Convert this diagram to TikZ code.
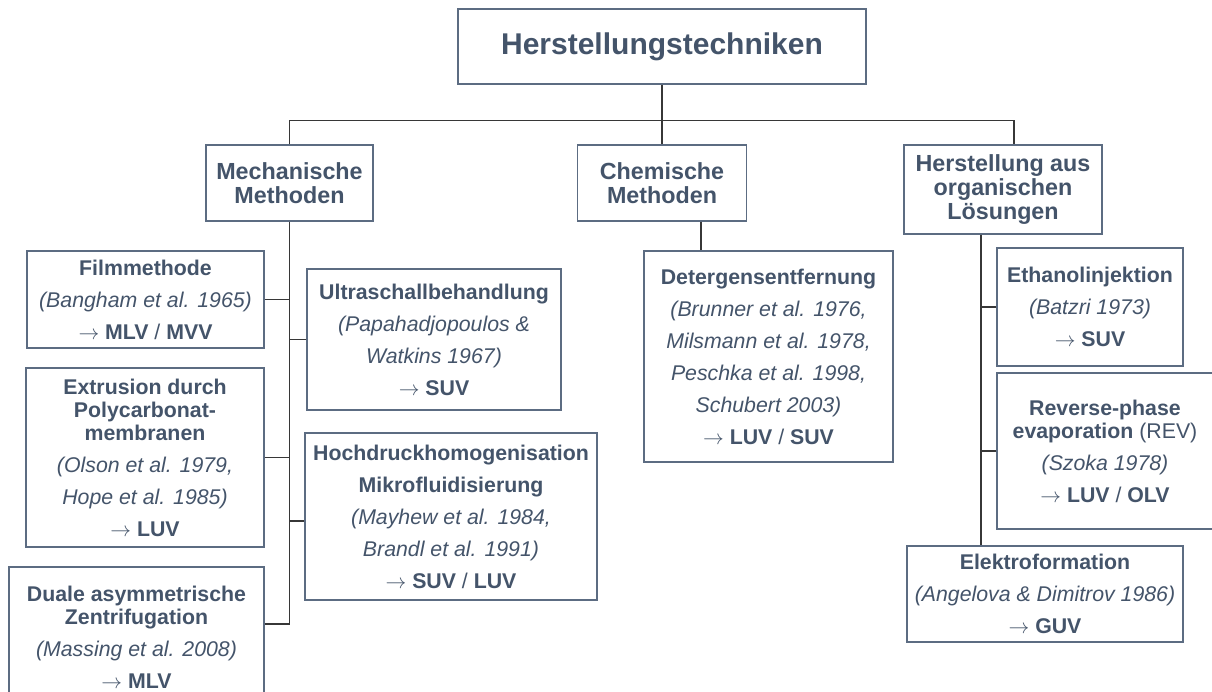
\documentclass[tikz,border=0pt]{standalone}
\usepackage{fontspec}
\setmainfont{Liberation Sans}
\usetikzlibrary{positioning,calc}
\definecolor{slatetext}{RGB}{68,84,106}
\definecolor{slateline}{RGB}{92,108,130}
\definecolor{linkgray}{RGB}{55,55,55}

\newcommand{\yields}[1]{$\rightarrow$ #1}

\begin{document}
\begin{tikzpicture}[
    x=1pt, y=-1pt,
    box/.style={rectangle, draw=slateline, line width=1.3pt, fill=white, text=slatetext, align=center, inner sep=0pt},
    rootbox/.style={box, font=\fontsize{30pt}{34pt}\selectfont\bfseries},
    groupbox/.style={box, font=\fontsize{23.3pt}{24pt}\selectfont\bfseries},
    leafbox/.style={box, font=\fontsize{21.3pt}{23pt}\selectfont},
    link/.style={draw=linkgray, line width=1.1pt}
]

% === LAYOUT ===
% coordinates are pixels of the 1212x691 page, y runs downwards
% root: y=9-84, bus: y=121.5, group boxes: y=145
\useasboundingbox (0,0) rectangle (1212,691);
\clip (0,0) rectangle (1212,691);

% Root
\node[rootbox, minimum width=408pt, minimum height=75pt] (root) at (662,46.5) {Herstellungstechniken};

% Groups
\node[groupbox, minimum width=167pt, minimum height=76pt] (mech) at (289.5,183) {Mechanische\\Methoden};
\node[groupbox, minimum width=169pt, minimum height=76pt] (chem) at (662,183) {Chemische\\Methoden};
\node[groupbox, minimum width=198pt, minimum height=89pt] (orgsol) at (1003,189.5) {Herstellung aus\\organischen\\Lösungen};

% Mechanical methods - left column
\node[leafbox, minimum width=237pt, minimum height=97pt] (film) at (145.5,299.5)
    {\textbf{Filmmethode}\\[9pt]\textit{(Bangham et al. 1965)}\\[9pt]\yields{\textbf{MLV} / \textbf{MVV}}};
\node[leafbox, minimum width=238pt, minimum height=179pt] (extr) at (145,457.5)
    {\textbf{Extrusion durch}\\\textbf{Polycarbonat-}\\\textbf{membranen}\\[9pt]\textit{(Olson et al. 1979,}\\[9pt]\textit{Hope et al. 1985)}\\[9pt]\yields{\textbf{LUV}}};
\node[leafbox, minimum width=255pt, minimum height=141pt] (duale) at (136.5,637.5)
    {\textbf{Duale asymmetrische}\\\textbf{Zentrifugation}\\[9pt]\textit{(Massing et al. 2008)}\\[9pt]\yields{\textbf{MLV}}};

% Mechanical methods - right column
\node[leafbox, minimum width=254pt, minimum height=141pt] (ultra) at (434,339.5)
    {\textbf{Ultraschallbehandlung}\\[9pt]\textit{(Papahadjopoulos \&}\\[9pt]\textit{Watkins 1967)}\\[9pt]\yields{\textbf{SUV}}};
\node[leafbox, minimum width=292pt, minimum height=167pt] (hoch) at (451,516.5)
    {\textbf{Hochdruckhomogenisation}\\[9pt]\textbf{Mikrofluidisierung}\\[9pt]\textit{(Mayhew et al. 1984,}\\[9pt]\textit{Brandl et al. 1991)}\\[9pt]\yields{\textbf{SUV} / \textbf{LUV}}};

% Chemical methods
\node[leafbox, minimum width=249pt, minimum height=211pt] (det) at (768.5,356.5)
    {\textbf{Detergensentfernung}\\[9pt]\textit{(Brunner et al. 1976,}\\[9pt]\textit{Milsmann et al. 1978,}\\[9pt]\textit{Peschka et al. 1998,}\\[9pt]\textit{Schubert 2003)}\\[9pt]\yields{\textbf{LUV} / \textbf{SUV}}};

% Organic solutions
\node[leafbox, minimum width=186pt, minimum height=118pt] (eth) at (1090,307)
    {\textbf{Ethanolinjektion}\\[9pt]\textit{(Batzri 1973)}\\[9pt]\yields{\textbf{SUV}}};
\node[leafbox, minimum width=216pt, minimum height=156pt] (rev) at (1105,451)
    {\textbf{Reverse-phase}\\\textbf{evaporation} (REV)\\[9pt]\textit{(Szoka 1978)}\\[9pt]\yields{\textbf{LUV} / \textbf{OLV}}};
\node[leafbox, minimum width=276pt, minimum height=96pt] (elek) at (1045,594)
    {\textbf{Elektroformation}\\[9pt]\textit{(Angelova \& Dimitrov 1986)}\\[9pt]\yields{\textbf{GUV}}};

% Root to groups
\draw[link] (root.south) -- (chem.north);
\draw[link] (mech.north) |- ($(orgsol.north)+(11,-23.5)$) -- ($(orgsol.north)+(11,0)$);

% Mechanical trunk
\coordinate (mechend) at (289.5,624);
\draw[link] (mech.south) -- (mechend) -- (mechend -| duale.east);
\draw[link] (film.east) -- (film.east -| mech.south);
\draw[link] (extr.east) -- (extr.east -| mech.south);
\draw[link] (ultra.west) -- (ultra.west -| mech.south);
\draw[link] ($(hoch.west)+(0,4.5)$) -- ($(hoch.west -| mech.south)+(0,4.5)$);

% Chemical drop
\path (chem.south) ++(39,0) coordinate (chemdrop);
\draw[link] (chemdrop) -- (chemdrop |- det.north);

% Organic trunk
\path (orgsol.south) ++(-22,0) coordinate (orgdrop);
\draw[link] (orgdrop) -- (orgdrop |- elek.north);
\draw[link] (eth.west) -- (eth.west -| orgdrop);
\draw[link] (rev.west) -- (rev.west -| orgdrop);

\end{tikzpicture}
\end{document}
